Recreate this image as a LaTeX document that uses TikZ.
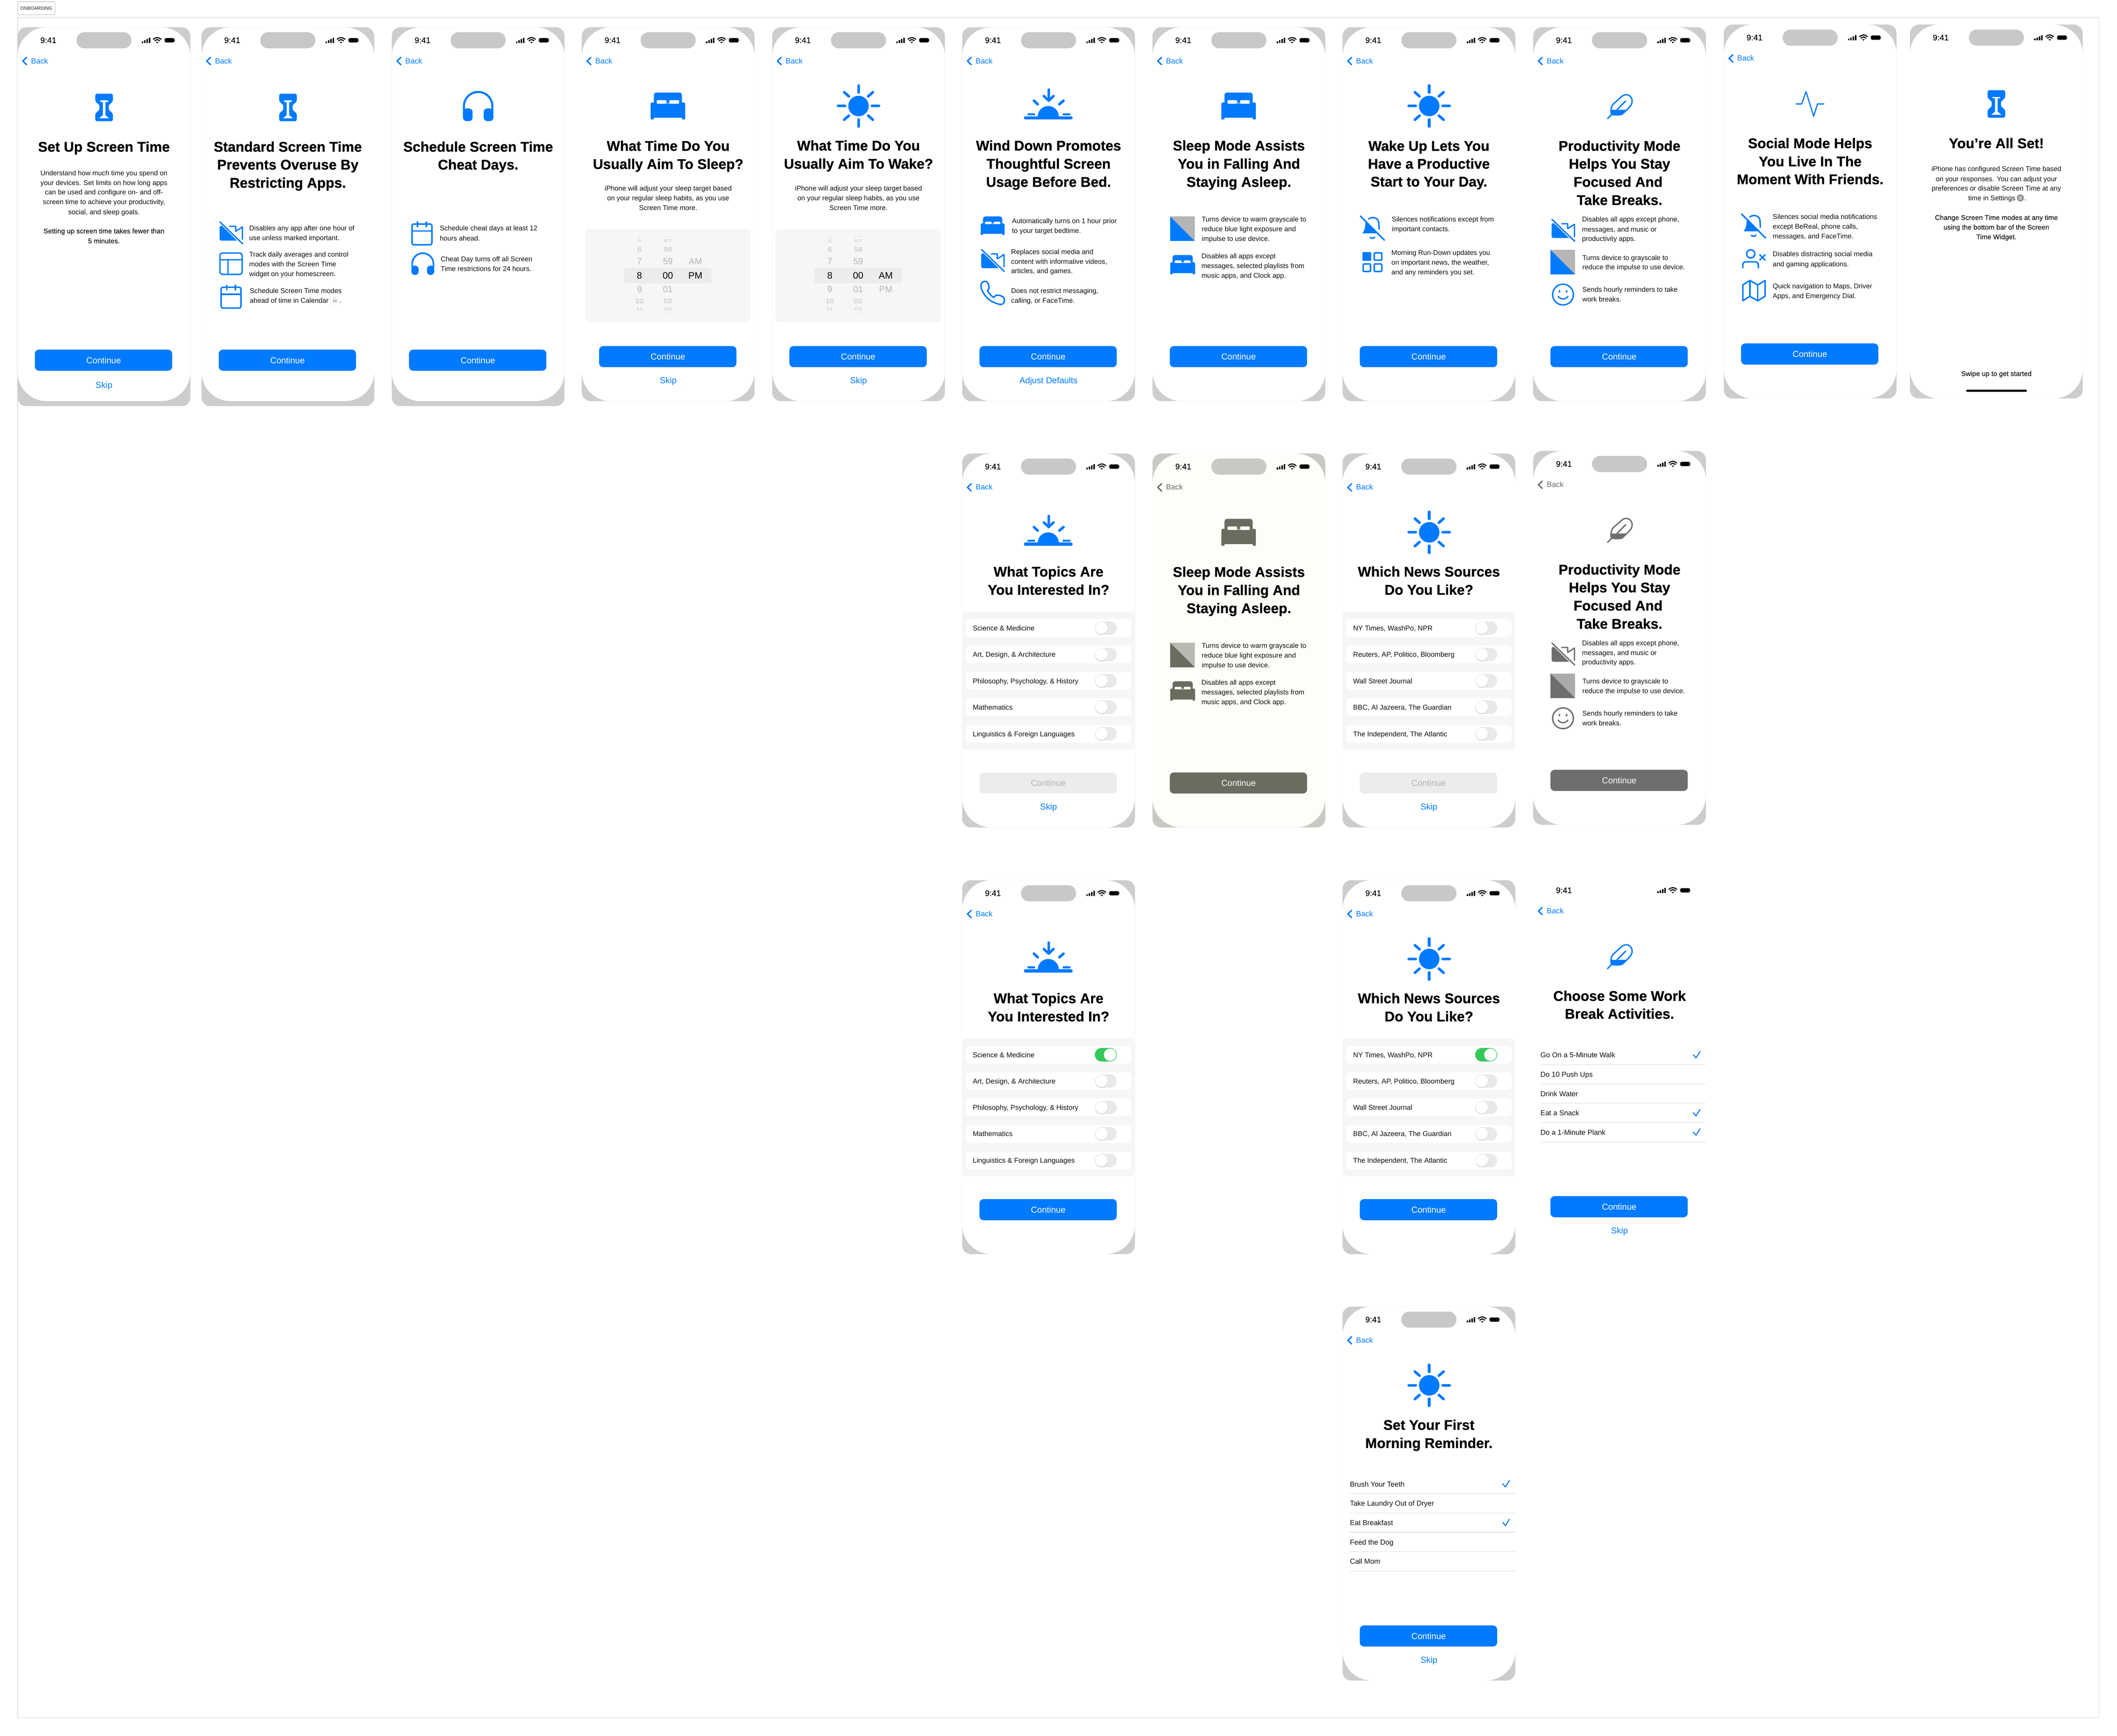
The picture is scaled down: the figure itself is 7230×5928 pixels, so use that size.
\documentclass[tikz,border=0pt]{standalone}
\usepackage{fontspec}
\setmainfont{Liberation Sans}
\newfontfamily\semi[FakeBold=0.35]{Liberation Sans}
\newfontface\ttlface[FakeBold=0.6]{Liberation Sans Bold}
\definecolor{appblue}{HTML}{007AFF}
\definecolor{framegray}{HTML}{CDCDCD}
\definecolor{islandgray}{HTML}{C8C8C8}
\definecolor{warmdark}{HTML}{6B6B5F}
\definecolor{warmbg}{HTML}{FDFDF9}
\definecolor{warmsq}{HTML}{B9B9B1}
\definecolor{warmframe}{HTML}{C9C9C3}
\definecolor{neutraldark}{HTML}{6E6E6E}
\definecolor{blue sq}{HTML}{B5B5B5}
\definecolor{neutralsq}{HTML}{ABABAB}
\definecolor{panelgray}{HTML}{F6F6F6}
\definecolor{bandgray}{HTML}{ECECEC}
\definecolor{toggleoff}{HTML}{E9E9E9}
\definecolor{toggleon}{HTML}{34C759}
\definecolor{sepgray}{HTML}{DEDEDE}
\definecolor{outline}{HTML}{E9E9E9}
\definecolor{bodyink}{HTML}{111111}
\colorlet{ic}{appblue}\colorlet{scr}{white}\colorlet{sq}{blue sq}\colorlet{frm}{framegray}\colorlet{isl}{islandgray}
\tikzset{
  ttl/.style={font=\ttlface\fontsize{48}{50}\selectfont,anchor=base,inner sep=0pt,text=black},
  bodytxt/.style={font=\fontsize{23.5}{26}\selectfont,inner sep=0pt,text=bodyink},
  backtxt/.style={font=\fontsize{26}{28}\selectfont,inner sep=0pt,anchor=base west},
  btntxt/.style={font=\fontsize{29.5}{32}\selectfont,inner sep=0pt,anchor=base},
  listtxt/.style={font=\fontsize{24.5}{27}\selectfont,inner sep=0pt,anchor=base west,text=bodyink},
  rowtxt/.style={font=\fontsize{24}{27}\selectfont,inner sep=0pt,anchor=base west,text=bodyink},
  stk/.style={draw=ic,fill=none,line cap=round,line join=round},
}
% ---- chrome
\newcommand\screenframe[2]{% outer height, white height
  \fill[frm,rounded corners=30pt] (0,0) rectangle (590,#1);
  \fill[scr,rounded corners=100pt] (0,0) rectangle (590,#2);}
\newcommand\stbar{%
  \node[font=\semi\fontsize{28}{30}\selectfont,anchor=base,inner sep=0pt] at (105,54) {9:41};
  \fill[black] (424,48) rectangle (429,54);
  \fill[black,rounded corners=1pt] (432,44) rectangle (437,54);
  \fill[black,rounded corners=1pt] (440,40) rectangle (445,54);
  \fill[black,rounded corners=1pt] (448,36) rectangle (453,54);
  \draw[black,line width=3.6pt] (463,42) .. controls (472,33) and (482,33) .. (491,42);
  \draw[black,line width=3.6pt] (468,47) .. controls (474,41) and (480,41) .. (486,47);
  \fill[black] (472.5,50) -- (481.5,50) -- (477,55) -- cycle;
  \draw[gray!70,fill=black,line width=1pt,rounded corners=5pt] (502,37) rectangle (536,52);
  \fill[gray!70] (537.5,42) rectangle (539,47);}
\newcommand\island{\fill[isl,rounded corners=27pt] (201,17) rectangle (389,72);}
\newcommand\backbtn{%
  \draw[stk,line width=4.6pt] (31,103) -- (18,115.5) -- (31,128);
  \node[backtxt,text=ic] at (46,124) {Back};}
\newcommand\chrome{\island\stbar\backbtn}
\newcommand\ttlline[2]{\node[ttl] at (295,#1+17) {#2};}
\newcommand\bodyC[2]{\node[bodytxt,anchor=base] at (295,#1+8) {#2};}
\newcommand\bodyL[3]{\node[bodytxt,anchor=base west] at (#1,#2+8) {#3};}
\newcommand\contbtn[2]{%
  \fill[#1,rounded corners=14pt] (59,1089) rectangle (528,1161);
  \node[btntxt,text=#2] at (294,1136) {Continue};}
\newcommand\linkbtn[1]{\node[btntxt,text=appblue] at (295,1217) {#1};}
\newcommand\ico[4]{\begin{scope}[shift={(#1,#2)},scale=#3]#4\end{scope}}
% ---- icons
\newcommand\hourglass{%
  \fill[ic,rounded corners=6pt] (-30,-47) -- (30,-47) -- (30,-32) .. controls (30,-15) and (16,-12) .. (16,0) .. controls (16,12) and (30,15) .. (30,32) -- (30,47) -- (-30,47) -- (-30,32) .. controls (-30,15) and (-16,12) .. (-16,0) .. controls (-16,-12) and (-30,-15) .. (-30,-32) -- cycle;
  \fill[scr] (-13,-24) rectangle (13,-19);
  \fill[scr] (-4,-24) rectangle (4,30);
  \fill[scr] (-4,26) -- (4,26) -- (17,37) -- (-17,37) -- cycle;}
\newcommand\bedicon{%
  \fill[ic,rounded corners=8pt] (-48,-46) rectangle (48,-6);
  \fill[ic,rounded corners=5pt] (-59,-12) rectangle (59,40);
  \fill[ic,rounded corners=3pt] (-59,28) rectangle (-48,46);
  \fill[ic,rounded corners=3pt] (48,28) rectangle (59,46);
  \fill[scr,rounded corners=3pt] (-38,-20) rectangle (-5,-8);
  \fill[scr,rounded corners=3pt] (5,-20) rectangle (38,-8);
  \fill[scr] (-38,-11) rectangle (38,-8.5);}
\newcommand\sunicon{%
  \fill[ic] (0,0) circle[radius=35];
  \foreach \a/\b/\c/\d in {46/0/70/0,-46/0/-70/0,0/46/0/70,0/-46/0/-70,33/33/49/47,-33/33/-49/47,33/-33/49/-47,-33/-33/-49/-47}
    {\draw[stk,line width=9pt] (\a,\b) -- (\c,\d);}}
\newcommand\sunseticon{%
  \draw[stk,line width=11pt] (-78,40.5) -- (78,40.5);
  \fill[ic] (-36,36) arc[start angle=180,end angle=360,radius=36] -- cycle;
  \fill[ic,rounded corners=2pt] (-71,25) rectangle (-45,32);
  \fill[ic,rounded corners=2pt] (49,25) rectangle (76,32);
  \draw[stk,line width=9pt] (-49,-18) -- (-36,-6);
  \draw[stk,line width=9pt] (52,-18) -- (38,-6);
  \draw[stk,line width=8.5pt] (1.5,-56) -- (1.5,-22);
  \draw[stk,line width=8.5pt] (-15,-34) -- (1.5,-18) -- (18,-34);}
\newcommand\videoslash{%
  \fill[ic,rounded corners=6pt] (-39,-24) -- (-18,-24) -- (30,27) -- (-39,27) -- cycle;
  \draw[scr,line width=9pt] (-39,-38) -- (39,38);
  \draw[stk,line width=4.5pt] (-38,-37) -- (40,38);
  \draw[stk,line width=4.5pt] (-4,-22) -- (16,-22) -- (16,-5) -- (39,-20) -- (39,22);}
\newcommand\panelicon{%
  \draw[stk,line width=4.6pt,rounded corners=8pt] (-38,-36) rectangle (38,37);
  \draw[stk,line width=4.6pt] (-38,-13) -- (38,-13);
  \draw[stk,line width=4.6pt] (-10,-13) -- (-10,37);}
\newcommand\calicon{%
  \draw[stk,line width=5pt,rounded corners=6pt] (-34,-33) rectangle (34,38);
  \draw[stk,line width=5pt] (-34,-9) -- (34,-9);
  \draw[stk,line width=5pt] (-15,-40) -- (-15,-24);
  \draw[stk,line width=5pt] (15,-40) -- (15,-24);}
\newcommand\headicon[1]{%
  \draw[stk,line width=#1pt] (-48.5,15) -- (-48.5,0) arc[start angle=180,end angle=360,radius=48.5] -- (48.5,15);
  \fill[ic,rounded corners=12pt] (-52,8) rectangle (-19,51);
  \fill[ic,rounded corners=12pt] (19,8) rectangle (52,51);}
\newcommand\squareicon{%
  \fill[sq] (-42,-42) rectangle (42,42);
  \fill[ic] (-42,-42) -- (42,42) -- (-42,42) -- cycle;}
\newcommand\handset{%
  \draw[stk,line width=5pt] (-28,-39) .. controls (-42,-38) and (-42,-20) .. (-36,-8) .. controls (-24,16) and (-10,30) .. (22,39) .. controls (36,42) and (41,35) .. (40,22) .. controls (40,14) and (30,10) .. (20,8) .. controls (12,7) and (8,10) .. (4,16) .. controls (-6,10) and (-14,0) .. (-18,-8) .. controls (-10,-14) and (-12,-20) .. (-14,-28) .. controls (-18,-38) and (-22,-40) .. (-28,-39) -- cycle;}
\newcommand\bellslash{%
  \fill[ic,rounded corners=2pt] (-24,-20) .. controls (-24,0) and (-28,10) .. (-35,18) -- (19,18) -- cycle;
  \draw[stk,line width=5pt] (-13,-31) .. controls (-3,-40) and (22,-38) .. (22,-15) -- (23,4);
  \draw[stk,line width=5pt] (-41,-41) -- (41,41);
  \draw[stk,line width=5pt] (-8,32) .. controls (-3,36) and (3,36) .. (8,31);}
\newcommand\gridicon{%
  \fill[ic,rounded corners=3pt] (-34,-34) rectangle (-4,-4);
  \draw[stk,line width=5pt,rounded corners=2pt] (6.5,-31.5) rectangle (32,-6.5);
  \draw[stk,line width=5pt,rounded corners=2pt] (-31.5,6.5) rectangle (-6.5,32);
  \draw[stk,line width=5pt,rounded corners=2pt] (6.5,6.5) rectangle (32,32);}
\newcommand\feathericon{%
  \draw[stk,line width=4.6pt] (-42,42) -- (-26,26);
  \draw[stk,line width=4.6pt] (-29,28) .. controls (-32,15) and (-30,0) .. (-22,-8) -- (8,-35) .. controls (22,-45) and (40,-38) .. (42,-20) .. controls (43,-8) and (36,0) .. (28,8) -- (8,27) .. controls (0,30) and (-15,30) .. (-29,28);
  \fill[ic] (-31,12) -- (22,12) -- (8,29) -- (-28,30) -- cycle;
  \draw[stk,line width=4.6pt] (-10,12) -- (20,-18);}
\newcommand\faceicon{%
  \draw[stk,line width=4.8pt] (0,0) circle[radius=35.5];
  \fill[ic] (-12,-11) ellipse[x radius=3,y radius=4.5];
  \fill[ic] (12,-11) ellipse[x radius=3,y radius=4.5];
  \draw[stk,line width=4.5pt] (-17,6) .. controls (-8,18) and (8,18) .. (17,6);}
\newcommand\personx{%
  \draw[stk,line width=5pt] (-10,-17) circle[radius=14];
  \draw[stk,line width=5pt] (-37,31) -- (-37,22) .. controls (-37,13) and (-32,10) .. (-24,10) -- (4,10) .. controls (12,10) and (16,14) .. (16,22) -- (16,31);
  \draw[stk,line width=5pt] (21,-14) -- (39,4);
  \draw[stk,line width=5pt] (39,-14) -- (21,4);}
\newcommand\mapicon{%
  \draw[stk,line width=5pt] (-37,-20) -- (-13,-35) -- (14,-20) -- (39,-35) -- (39,19) -- (14,34) -- (-13,19) -- (-37,34) -- cycle;
  \draw[stk,line width=5pt] (-13,-35) -- (-13,19);
  \draw[stk,line width=5pt] (14,-20) -- (14,34);}
\newcommand\pulseicon{\draw[stk,line width=4pt] (-47,0) -- (-28,0) -- (-13,-42) -- (13,42) -- (26,0) -- (48,0);}
% ---- shared screens
\newcommand\sleepbody{%
  \ico{294}{269}{1}{\bedicon}
  \ttlline{404}{Sleep Mode Assists}\ttlline{466}{You in Falling And}\ttlline{528}{Staying Asleep.}
  \ico{102}{688}{1}{\squareicon}
  \bodyL{168}{656}{Turns device to warm grayscale to}\bodyL{168}{689}{reduce blue light exposure and}\bodyL{168}{722}{impulse to use device.}
  \ico{103}{811}{.72}{\bedicon}
  \bodyL{167}{782}{Disables all apps except}\bodyL{167}{815}{messages, selected playlists from}\bodyL{167}{848}{music apps, and Clock app.}}
\newcommand\prodbody{%
  \ico{296}{270}{1}{\feathericon}
  \ttlline{405}{Productivity Mode}\ttlline{466}{Helps You Stay}\node[ttl] at (290,528+17) {Focused And};\ttlline{590}{Take Breaks.}
  \ico{102}{693}{1}{\videoslash}
  \bodyL{167}{656}{Disables all apps except phone,}\bodyL{167}{690}{messages, and music or}\bodyL{167}{722}{productivity apps.}
  \ico{101}{802}{1}{\squareicon}
  \bodyL{168}{787}{Turns device to grayscale to}\bodyL{168}{820}{reduce the impulse to use device.}
  \ico{102}{913}{1}{\faceicon}
  \bodyL{168}{896}{Sends hourly reminders to take}\bodyL{168}{929}{work breaks.}}
\newcommand\rowt[3]{%
  \fill[white,rounded corners=14pt] (12,#1-30) rectangle (578,#1+30);
  \node[rowtxt] at (36,#1+9) {#2};
  \ifnum#3=1
    \fill[toggleon,rounded corners=23pt] (453,#1-23) rectangle (528,#1+23);
    \fill[white] (505,#1) circle[radius=21];
  \else
    \fill[toggleoff,rounded corners=23pt] (453,#1-23) rectangle (528,#1+23);
    \fill[gray!45] (475.5,#1+1.5) circle[radius=21.5];
    \fill[white] (475.5,#1) circle[radius=21];
  \fi}
\newcommand\listpanel{\fill[panelgray,rounded corners=14pt] (0,540) rectangle (590,1011);}
\newcommand\topicsbody[1]{%
  \ico{294}{269}{1}{\sunseticon}
  \ttlline{403}{What Topics Are}\ttlline{465}{You Interested In?}
  \listpanel
  \rowt{596}{Science \& Medicine}{#1}
  \rowt{686}{Art, Design, \& Architecture}{0}
  \rowt{776}{Philosophy, Psychology, \& History}{0}
  \rowt{866}{Mathematics}{0}
  \rowt{957}{Linguistics \& Foreign Languages}{0}}
\newcommand\newsbody[1]{%
  \ico{296}{269}{1}{\sunicon}
  \ttlline{403}{Which News Sources}\ttlline{465}{Do You Like?}
  \listpanel
  \rowt{596}{NY Times, WashPo, NPR}{#1}
  \rowt{686}{Reuters, AP, Politico, Bloomberg}{0}
  \rowt{776}{Wall Street Journal}{0}
  \rowt{866}{BBC, Al Jazeera, The Guardian}{0}
  \rowt{957}{The Independent, The Atlantic}{0}}
\newcommand\pk[6]{\node[font=\fontsize{#3}{#3}\selectfont,text=#4,anchor=center,inner sep=0pt] at (#1,#2) {\scalebox{1}[#5]{#6}};}
\newcommand\pickerbody[1]{%
  \fill[panelgray,rounded corners=14pt] (11,688) rectangle (576,1007);
  \fill[bandgray,rounded corners=10pt] (144,822) rectangle (443,875);
  \foreach \yy/\h/\m/\sz/\cc/\sc in {716/4/56/22/black!10/.25,730/5/57/24/black!22/.6,759/6/58/26/black!26/.85,800/7/59/30/black!30/1,895/9/01/30/black!30/1,935/10/02/26/black!26/.85,963/11/03/24/black!22/.6,978/12/04/22/black!10/.25}
    {\pk{197}{\yy}{\sz}{\cc}{\sc}{\h}\pk{294}{\yy}{\sz}{\cc}{\sc}{\m}}
  \pk{197}{848}{32}{black}{1}{8}\pk{294}{848}{32}{black}{1}{00}
  \ifnum#1=0
    \pk{388}{800}{30}{black!30}{1}{AM}\pk{388}{848}{32}{black}{1}{PM}
  \else
    \pk{388}{848}{32}{black}{1}{AM}\pk{388}{895}{30}{black!30}{1}{PM}
  \fi}
\newcommand\checkrow[3]{% text y, text, check
  \node[listtxt] at (25,#1+9) {#2};
  \draw[sepgray,line width=1.5pt] (24,#1+33) -- (590,#1+33);
  \ifnum#3=1 \draw[appblue,line width=3.4pt,line cap=round,line join=round] (547,#1-1) -- (556,#1+10) -- (570,#1-12);\fi}
\begin{document}
\begin{tikzpicture}[x=1pt,y=-1pt]
\useasboundingbox (0,0) rectangle (7230,5928);
\fill[white] (0,0) rectangle (7230,5928);
\draw[outline,line width=3pt] (60,60) rectangle (7169,5867);
\node[draw=black!22,line width=2pt,rounded corners=4pt,font=\fontsize{16}{18}\selectfont,minimum width=128pt,minimum height=44pt,inner sep=0pt,text=black!85] (label) at (124,28) {ONBOARDING};
% ---------- row 1
\begin{scope}[shift={(60,93)}]
  \screenframe{1294}{1277}\chrome
  \ico{295.5}{274}{1}{\hourglass}
  \ttlline{408}{Set Up Screen Time}
  \bodyC{498}{Understand how much time you spend on}\bodyC{532}{your devices. Set limits on how long apps}\bodyC{564}{can be used and configure on- and off-}\bodyC{597}{screen time to achieve your productivity,}\bodyC{631}{social, and sleep goals.}
  \node[bodytxt,anchor=base,font=\semi\fontsize{23.5}{26}\selectfont] at (295,704) {Setting up screen time takes fewer than};
  \node[bodytxt,anchor=base,font=\semi\fontsize{23.5}{26}\selectfont] at (295,738) {5 minutes.};
  \begin{scope}[yshift=-12pt]\contbtn{appblue}{white}\end{scope}
  \begin{scope}[yshift=-15pt]\linkbtn{Skip}\end{scope}
\end{scope}
\begin{scope}[shift={(688,93)}]
  \screenframe{1294}{1277}\chrome
  \ico{295.5}{274}{1}{\hourglass}
  \ttlline{408}{Standard Screen Time}\ttlline{469}{Prevents Overuse By}\ttlline{531}{Restricting Apps.}
  \ico{101}{702}{1}{\videoslash}
  \bodyL{163}{687}{Disables any app after one hour of}\bodyL{163}{720}{use unless marked important.}
  \ico{101}{807}{1}{\panelicon}
  \bodyL{163}{776}{Track daily averages and control}\bodyL{163}{809}{modes with the Screen Time}\bodyL{163}{842}{widget on your homescreen.}
  \ico{101}{921}{1}{\calicon}
  \bodyL{165}{900}{Schedule Screen Time modes}\bodyL{165}{933}{ahead of time in Calendar}
  \draw[black!8,fill=white,line width=1pt,rounded corners=4pt] (441,919) rectangle (469,947);
  \node[font=\fontsize{4}{4}\selectfont,text=red!70,inner sep=0pt] at (455,924) {MON};
  \node[font=\fontsize{14}{14}\selectfont,text=black!65,inner sep=0pt] at (455,935) {10};
  \bodyL{472}{933}{.}
  \begin{scope}[yshift=-12pt]\contbtn{appblue}{white}\end{scope}
\end{scope}
\begin{scope}[shift={(1338,93)}]
  \screenframe{1294}{1277}\chrome
  \ico{295}{269.5}{1}{\headicon{7}}
  \ttlline{408}{Schedule Screen Time}\ttlline{469}{Cheat Days.}
  \ico{103}{705}{1}{\calicon}
  \bodyL{164}{687}{Schedule cheat days at least 12}\bodyL{164}{721}{hours ahead.}
  \ico{106}{808}{.75}{\headicon{5.5}}
  \bodyL{167}{792}{Cheat Day turns off all Screen}\bodyL{167}{825}{Time restrictions for 24 hours.}
  \begin{scope}[yshift=-12pt]\contbtn{appblue}{white}\end{scope}
\end{scope}
\begin{scope}[shift={(1987,93)}]
  \screenframe{1277}{1277}\chrome
  \ico{294}{269}{1}{\bedicon}
  \ttlline{405}{What Time Do You}\ttlline{467}{Usually Aim To Sleep?}
  \bodyC{551}{iPhone will adjust your sleep target based}\bodyC{584}{on your regular sleep habits, as you use}\bodyC{617}{Screen Time more.}
  \pickerbody{0}
  \contbtn{appblue}{white}\linkbtn{Skip}
\end{scope}
\begin{scope}[shift={(2637,93)}]
  \screenframe{1277}{1277}\chrome
  \ico{295}{269}{1}{\sunicon}
  \ttlline{404}{What Time Do You}\ttlline{466}{Usually Aim To Wake?}
  \bodyC{551}{iPhone will adjust your sleep target based}\bodyC{584}{on your regular sleep habits, as you use}\bodyC{617}{Screen Time more.}
  \pickerbody{1}
  \contbtn{appblue}{white}\linkbtn{Skip}
\end{scope}
\begin{scope}[shift={(3286,93)}]
  \screenframe{1277}{1277}\chrome
  \ico{294}{269}{1}{\sunseticon}
  \ttlline{404}{Wind Down Promotes}\ttlline{466}{Thoughtful Screen}\ttlline{528}{Usage Before Bed.}
  \ico{104}{678}{.69}{\bedicon}
  \bodyL{170}{662}{Automatically turns on 1 hour prior}\bodyL{170}{695}{to your target bedtime.}
  \ico{104}{796}{1}{\videoslash}
  \bodyL{167}{767}{Replaces social media and}\bodyL{167}{800}{content with informative videos,}\bodyL{167}{833}{articles, and games.}
  \ico{104}{907}{1}{\handset}
  \bodyL{167}{901}{Does not restrict messaging,}\bodyL{167}{933}{calling, or FaceTime.}
  \contbtn{appblue}{white}\linkbtn{Adjust Defaults}
\end{scope}
\begin{scope}[shift={(3936,93)}]
  \screenframe{1277}{1277}\chrome\sleepbody
  \contbtn{appblue}{white}
\end{scope}
\begin{scope}[shift={(4585,93)}]
  \screenframe{1277}{1277}\chrome
  \ico{296}{269}{1}{\sunicon}
  \ttlline{405}{Wake Up Lets You}\ttlline{466}{Have a Productive}\ttlline{527}{Start to Your Day.}
  \ico{102}{686}{1}{\bellslash}
  \bodyL{168}{656}{Silences notifications except from}\bodyL{168}{689}{important contacts.}
  \ico{102}{802}{1}{\gridicon}
  \bodyL{167}{770}{Morning Run-Down updates you}\bodyL{167}{803}{on important news, the weather,}\bodyL{167}{836}{and any reminders you set.}
  \contbtn{appblue}{white}
\end{scope}
\begin{scope}[shift={(5236,93)}]
  \screenframe{1277}{1277}\chrome\prodbody
  \contbtn{appblue}{white}
\end{scope}
\begin{scope}[shift={(5887,84)}]
  \screenframe{1277}{1277}\chrome
  \ico{294}{271}{1}{\pulseicon}
  \ttlline{405}{Social Mode Helps}\ttlline{467}{You Live In The}\ttlline{528}{Moment With Friends.}
  \ico{102}{688}{1}{\bellslash}
  \bodyL{167}{657}{Silences social media notifications}\bodyL{167}{690}{except BeReal, phone calls,}\bodyL{167}{723}{messages, and FaceTime.}
  \ico{102}{800}{1}{\personx}
  \bodyL{167}{784}{Disables distracting social media}\bodyL{167}{818}{and gaming applications.}
  \ico{102}{909}{1}{\mapicon}
  \bodyL{167}{894}{Quick navigation to Maps, Driver}\bodyL{167}{927}{Apps, and Emergency Dial.}
  \contbtn{appblue}{white}
\end{scope}
\begin{scope}[shift={(6523,84)}]
  \screenframe{1277}{1277}\island\stbar
  \ico{295}{271}{1}{\hourglass}
  \ttlline{405}{You’re All Set!}
  \bodyC{493}{iPhone has configured Screen Time based}\bodyC{527}{on your responses. You can adjust your}\bodyC{560}{preferences or disable Screen Time at any}
  \node[bodytxt,anchor=base east] at (360,600) {time in Settings};
  \fill[black!45] (377,592) circle[radius=12];
  \fill[black!25] (377,592) circle[radius=7];
  \node[bodytxt,anchor=base west] at (391,600) {.};
  \node[bodytxt,anchor=base,font=\semi\fontsize{23.5}{26}\selectfont] at (295,667) {Change Screen Time modes at any time};
  \node[bodytxt,anchor=base,font=\semi\fontsize{23.5}{26}\selectfont] at (295,700) {using the bottom bar of the Screen};
  \node[bodytxt,anchor=base,font=\semi\fontsize{23.5}{26}\selectfont] at (295,733) {Time Widget.};
  \node[bodytxt,anchor=base,font=\semi\fontsize{23.5}{26}\selectfont] at (295,1200) {Swipe up to get started};
  \fill[black,rounded corners=3pt] (192,1247) rectangle (399,1254);
\end{scope}
% ---------- row 2
\begin{scope}[shift={(3286,1549)}]
  \screenframe{1277}{1277}\chrome\topicsbody{0}
  \contbtn{bandgray}{black!30}\linkbtn{Skip}
\end{scope}
\begin{scope}[shift={(3936,1549)}]
  \colorlet{ic}{warmdark}\colorlet{scr}{warmbg}\colorlet{sq}{warmsq}\colorlet{frm}{warmframe}\colorlet{isl}{warmframe}
  \screenframe{1277}{1277}\chrome\sleepbody
  \contbtn{warmdark}{white}
\end{scope}
\begin{scope}[shift={(4585,1549)}]
  \screenframe{1277}{1277}\chrome\newsbody{0}
  \contbtn{bandgray}{black!30}\linkbtn{Skip}
\end{scope}
\begin{scope}[shift={(5236,1540)}]
  \colorlet{ic}{neutraldark}\colorlet{sq}{neutralsq}
  \screenframe{1277}{1277}\chrome\prodbody
  \contbtn{neutraldark}{white}
\end{scope}
% ---------- row 3
\begin{scope}[shift={(3286,3006)}]
  \screenframe{1277}{1277}\chrome\topicsbody{1}
  \contbtn{appblue}{white}
\end{scope}
\begin{scope}[shift={(4585,3006)}]
  \screenframe{1277}{1277}\chrome\newsbody{1}
  \contbtn{appblue}{white}
\end{scope}
\begin{scope}[shift={(5236,2996)}]
  \stbar\backbtn
  \ico{296}{270}{1}{\feathericon}
  \ttlline{405}{Choose Some Work}\ttlline{466}{Break Activities.}
  \checkrow{607}{Go On a 5-Minute Walk}{1}
  \checkrow{673}{Do 10 Push Ups}{0}
  \checkrow{739}{Drink Water}{0}
  \checkrow{805}{Eat a Snack}{1}
  \checkrow{871}{Do a 1-Minute Plank}{1}
  \contbtn{appblue}{white}\linkbtn{Skip}
\end{scope}
% ---------- row 4
\begin{scope}[shift={(4585,4462)}]
  \screenframe{1277}{1277}\chrome
  \ico{296}{269}{1}{\sunicon}
  \ttlline{404}{Set Your First}\ttlline{466}{Morning Reminder.}
  \checkrow{606}{Brush Your Teeth}{1}
  \checkrow{672}{Take Laundry Out of Dryer}{0}
  \checkrow{738}{Eat Breakfast}{1}
  \checkrow{804}{Feed the Dog}{0}
  \checkrow{870}{Call Mom}{0}
  \contbtn{appblue}{white}\linkbtn{Skip}
\end{scope}
\end{tikzpicture}
\end{document}
